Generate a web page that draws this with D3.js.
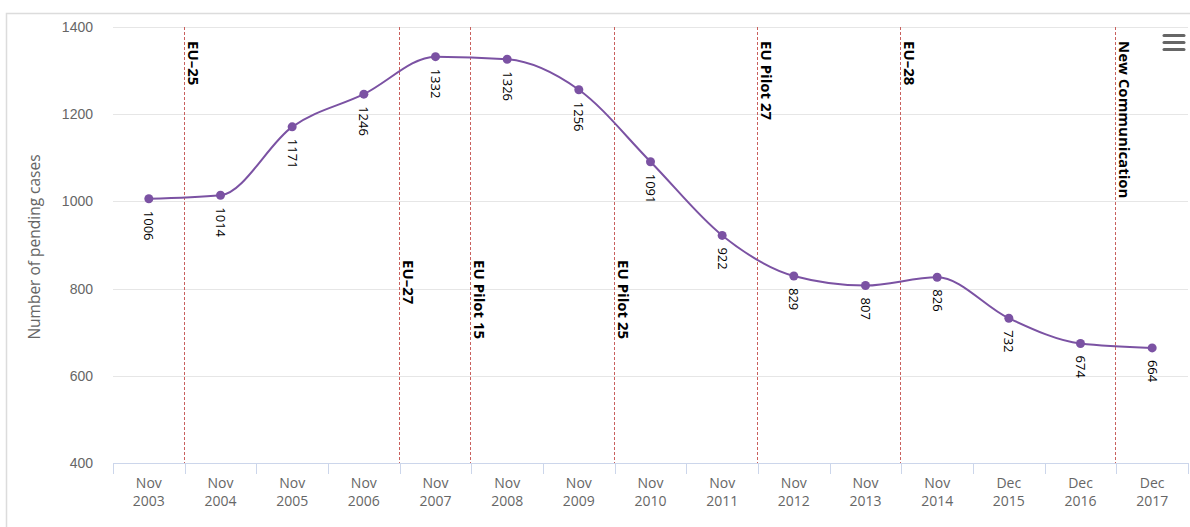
<!DOCTYPE html>
<html>
<head>
<meta charset="utf-8">
<script src="https://cdn.jsdelivr.net/npm/d3@7/dist/d3.min.js"></script>
<style>
  html, body { margin: 0; padding: 0; background: #fff; }
  svg { display: block; font-family: "Open Sans", "Noto Sans", sans-serif; }
</style>
</head>
<body>
<svg id="chart" width="1190" height="527"></svg>
<script>
// Pending infringement cases by reference month
const months = ["Nov", "Nov", "Nov", "Nov", "Nov", "Nov", "Nov", "Nov", "Nov", "Nov", "Nov", "Nov", "Dec", "Dec", "Dec"];
const years = ["2003", "2004", "2005", "2006", "2007", "2008", "2009", "2010", "2011", "2012", "2013", "2014", "2015", "2016", "2017"];
const pendingCases = [1006, 1014, 1171, 1246, 1332, 1326, 1256, 1091, 922, 829, 807, 826, 732, 674, 664];

// Milestones, placed between consecutive categories
const milestoneNames = ["EU–25", "EU–27", "EU Pilot 15", "EU Pilot 25", "EU Pilot 27", "EU–28", "New Communication"];
const milestonePositions = [0.5, 3.5, 4.5, 6.5, 8.5, 10.5, 13.5];
const milestoneLow = [false, true, true, true, false, false, false];

const yTicks = [400, 600, 800, 1000, 1200, 1400];
const yTitle = "Number of pending cases";

const svg = d3.select("#chart");
const W = 1190, H = 527;
const plot = { left: 113, right: 1188, top: 27, bottom: 463 };

// Outer frame (left and top edges)
svg.append("path")
  .attr("d", `M6.5,${H} V13.5 H${W}`)
  .attr("fill", "none").attr("stroke", "#dcdcdc").attr("stroke-width", 1.5);

const n = years.length;
const x = d3.scaleLinear().domain([-0.5, n - 0.5]).range([plot.left, plot.right]);
const y = d3.scaleLinear().domain([400, 1400]).range([plot.bottom, plot.top]);

// Horizontal grid
svg.append("g").selectAll("line").data(yTicks.filter(d => d > 400)).join("line")
  .attr("x1", plot.left).attr("x2", plot.right)
  .attr("y1", d => Math.round(y(d)) + 0.5).attr("y2", d => Math.round(y(d)) + 0.5)
  .attr("stroke", "#e6e6e6").attr("stroke-width", 1);

// Y axis labels
const yAxis = d3.axisLeft(y).tickValues(yTicks).tickSize(0).tickPadding(0).tickFormat(d3.format("d"));
const yg = svg.append("g").attr("transform", `translate(${plot.left - 20},0)`).call(yAxis);
yg.select(".domain").remove();
yg.selectAll("text").attr("fill", "#666").attr("font-size", 14).attr("font-family", null);

// Y axis title
svg.append("text")
  .attr("transform", `translate(40,${(plot.top + plot.bottom) / 2 + 2}) rotate(-90)`)
  .attr("text-anchor", "middle")
  .attr("fill", "#666").attr("font-size", 15.5)
  .text(yTitle);

// X axis: line, boundary ticks, two-line category labels
const xg = svg.append("g");
xg.append("line")
  .attr("x1", plot.left).attr("x2", plot.right)
  .attr("y1", plot.bottom + 0.5).attr("y2", plot.bottom + 0.5)
  .attr("stroke", "#ccd6eb");
const bounds = d3.range(0, n + 1).map(i => i - 0.5);
xg.selectAll("line.tick").data(bounds).join("line").attr("class", "tick")
  .attr("x1", d => Math.round(x(d)) + 0.5).attr("x2", d => Math.round(x(d)) + 0.5)
  .attr("y1", plot.bottom).attr("y2", plot.bottom + 11)
  .attr("stroke", "#ccd6eb");
const xl = xg.selectAll("text.cat").data(years).join("text").attr("class", "cat")
  .attr("text-anchor", "middle").attr("fill", "#666").attr("font-size", 14);
xl.append("tspan").attr("x", (d, i) => x(i)).attr("y", 488).text((d, i) => months[i]);
xl.append("tspan").attr("x", (d, i) => x(i)).attr("y", 506).text(d => d);

// Milestone plot lines
const ml = svg.append("g");
ml.selectAll("line").data(milestonePositions).join("line")
  .attr("x1", d => Math.round(x(d)) - 0.5).attr("x2", d => Math.round(x(d)) - 0.5)
  .attr("y1", plot.top).attr("y2", plot.bottom)
  .attr("stroke", "#c9605d").attr("stroke-width", 1).attr("stroke-dasharray", "3,2")
  .attr("shape-rendering", "crispEdges");
ml.selectAll("text").data(milestoneNames).join("text")
  .attr("transform", (d, i) => `translate(${x(milestonePositions[i]) + 3},${milestoneLow[i] ? 260 : 41}) rotate(90)`)
  .attr("font-size", 15).attr("font-weight", "bold").attr("fill", "#000")
  .text(d => d);

// Series line
const color = "#7b52a3";
const line = d3.line().x((d, i) => x(i)).y(d => y(d)).curve(d3.curveMonotoneX);
svg.append("path").datum(pendingCases)
  .attr("d", line).attr("fill", "none").attr("stroke", color).attr("stroke-width", 2);

// Markers
svg.append("g").selectAll("circle").data(pendingCases).join("circle")
  .attr("cx", (d, i) => x(i)).attr("cy", d => y(d)).attr("r", 4.5).attr("fill", color);

// Data labels, rotated
svg.append("g").selectAll("text").data(pendingCases).join("text")
  .attr("transform", (d, i) => `translate(${x(i) - 4.5},${y(d) + 12}) rotate(90)`)
  .attr("font-size", 13).attr("fill", "#000")
  .text(d => d);

// Menu icon
svg.append("g").selectAll("line").data([35.5, 42.5, 49.5]).join("line")
  .attr("x1", 1164).attr("x2", 1184).attr("y1", d => d).attr("y2", d => d)
  .attr("stroke", "#666").attr("stroke-width", 3).attr("stroke-linecap", "round");
</script>
</body>
</html>
